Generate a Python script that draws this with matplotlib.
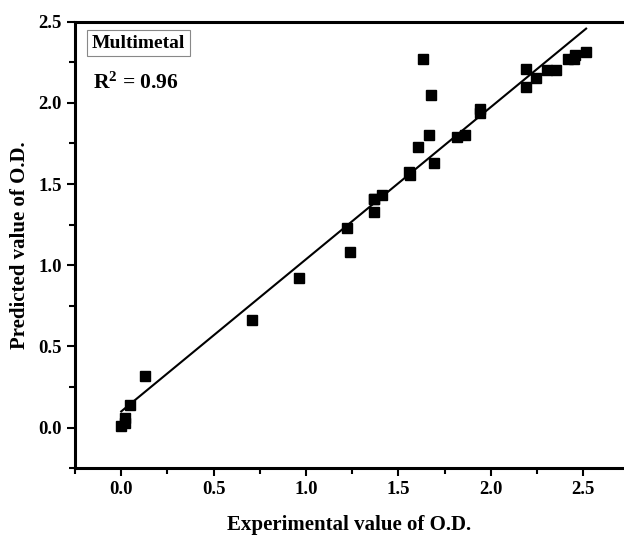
import numpy as np
import matplotlib
matplotlib.use("Agg")
import matplotlib.pyplot as plt
from matplotlib.ticker import MultipleLocator

# experimental vs predicted O.D.
experimental = [0.00, 0.02, 0.02, 0.05, 0.13, 0.71, 0.96, 1.22, 1.24, 1.365,
                1.37, 1.37, 1.41, 1.555, 1.56, 1.605, 1.635, 1.665, 1.675, 1.69,
                1.815, 1.86, 1.94, 1.94, 2.19, 2.19, 2.245, 2.305, 2.35, 2.415,
                2.45, 2.455, 2.515]
predicted = [0.01, 0.03, 0.06, 0.14, 0.32, 0.66, 0.92, 1.23, 1.08, 1.33,
             1.41, 1.41, 1.435, 1.575, 1.555, 1.73, 2.27, 1.80, 2.05, 1.63,
             1.79, 1.80, 1.96, 1.94, 2.21, 2.10, 2.15, 2.20, 2.20, 2.27,
             2.27, 2.295, 2.31]

fit_slope = 0.937
fit_intercept = 0.10
r_squared = 0.96
label = "Multimetal"

plt.rcParams['font.family'] = ['Liberation Serif', 'DejaVu Serif']
plt.rcParams['font.weight'] = 'bold'
plt.rcParams['mathtext.fontset'] = 'custom'
plt.rcParams['mathtext.rm'] = 'Liberation Serif:bold'
plt.rcParams['mathtext.bf'] = 'Liberation Serif:bold'
plt.rcParams['mathtext.it'] = 'Liberation Serif:bold'

fig = plt.figure(figsize=(6.24, 5.39), dpi=100)
ax = fig.add_axes([0.1202, 0.1312, 0.8798, 0.8288])

x = np.array(experimental)
y = np.array(predicted)
ax.plot(x, y, 's', color='black', markersize=7.5, zorder=3)

fit_x = np.array([x.min(), x.max()])
ax.plot(fit_x, fit_intercept + fit_slope * fit_x, color='black', lw=1.5, zorder=2)

ax.set_xlim(-0.25, 2.72)
ax.set_ylim(-0.25, 2.5)
ax.xaxis.set_minor_locator(MultipleLocator(0.25))
ax.yaxis.set_minor_locator(MultipleLocator(0.25))
ax.set_xticks(np.arange(0, 2.51, 0.5))
ax.set_yticks(np.arange(0, 2.51, 0.5))
ax.xaxis.set_major_formatter(plt.FormatStrFormatter('%.1f'))
ax.yaxis.set_major_formatter(plt.FormatStrFormatter('%.1f'))

ax.tick_params(which='major', direction='out', length=6, width=1.5, labelsize=13.5)
ax.tick_params(which='minor', direction='out', length=4, width=1.5)
for lab in ax.get_xticklabels() + ax.get_yticklabels():
    lab.set_fontweight('bold')

ax.spines['right'].set_visible(False)
for s in ['left', 'bottom', 'top']:
    ax.spines[s].set_linewidth(2.2)

ax.set_xlabel("Experimental value of O.D.", fontsize=15, fontweight='bold', labelpad=12)
ax.set_ylabel("Predicted value of O.D.", fontsize=15, fontweight='bold', labelpad=6)

ax.text(0.03, 0.952, label, transform=ax.transAxes, fontsize=14, fontweight='bold',
        va='center', ha='left',
        bbox=dict(boxstyle='square,pad=0.25', fc='white', ec='#888888', lw=0.8))
ax.text(0.033, 0.862, r"$\mathbf{R^2}$ = %.2f" % r_squared, transform=ax.transAxes,
        fontsize=15.5, fontweight='bold', va='center', ha='left')

fig.savefig("out.png", dpi=100)
